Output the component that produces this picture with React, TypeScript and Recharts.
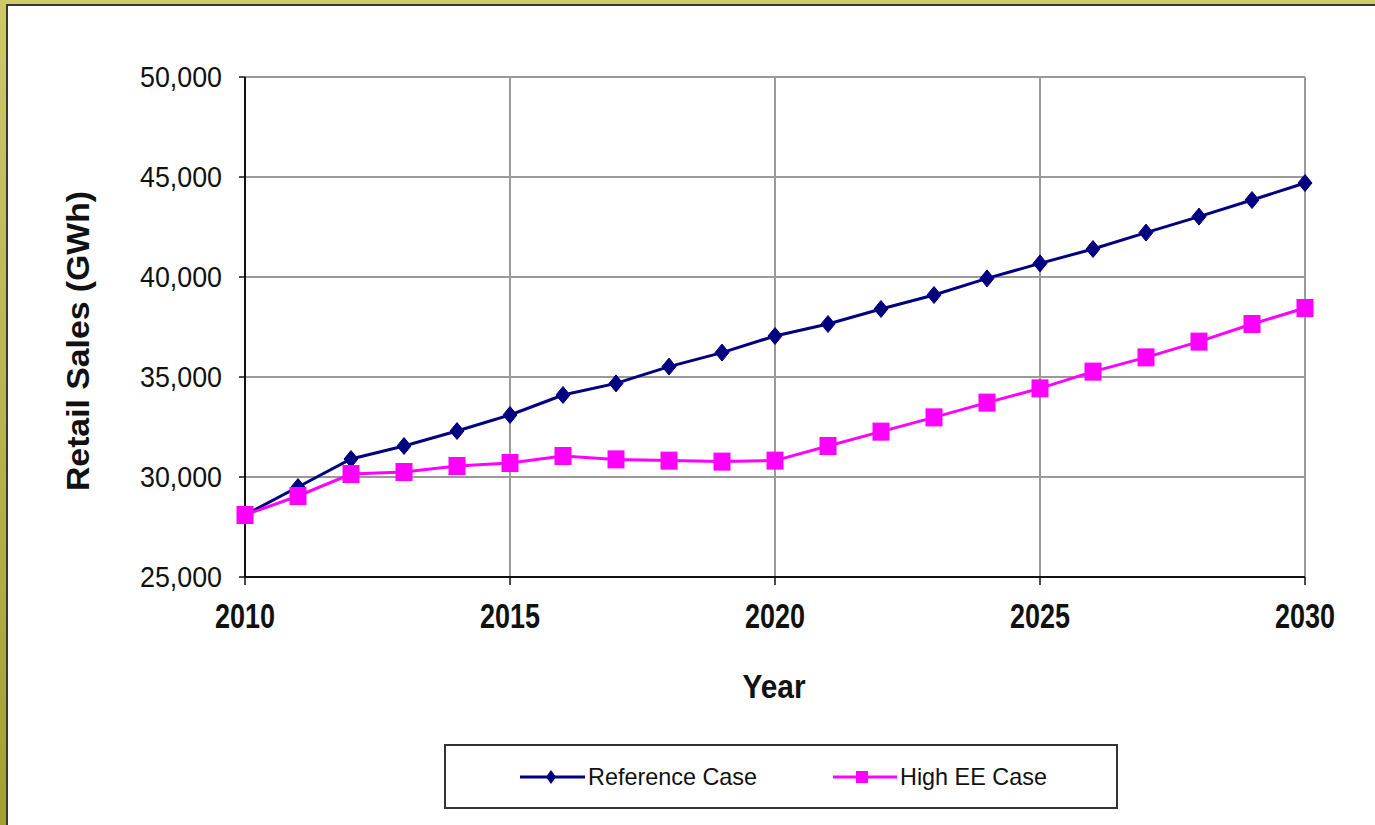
import React from 'react';
import { LineChart, Line, XAxis, YAxis, CartesianGrid } from 'recharts';

const years = [2010, 2011, 2012, 2013, 2014, 2015, 2016, 2017, 2018, 2019, 2020, 2021, 2022, 2023, 2024, 2025, 2026, 2027, 2028, 2029, 2030];
const referenceCase = [28100, 29500, 30900, 31550, 32300, 33100, 34100, 34680, 35520, 36220, 37050, 37650, 38400, 39100, 39930, 40680, 41400, 42220, 43020, 43850, 44700];
const highEECase = [28100, 29050, 30150, 30250, 30550, 30700, 31050, 30880, 30820, 30770, 30820, 31550, 32270, 32980, 33720, 34430, 35270, 35980, 36770, 37650, 38450];
const xTicks = [2010, 2015, 2020, 2025, 2030];
const yTicks = [25000, 30000, 35000, 40000, 45000, 50000];
const seriesNames = ['Reference Case', 'High EE Case'];
const seriesColors = ['#000080', '#FF00FF'];

const data = years.map((y, i) => ({ year: y, ref: referenceCase[i], high: highEECase[i] }));

const FONT = '"Liberation Sans", Arial, sans-serif';

const Diamond = (props: any) => {
  const { cx, cy } = props;
  if (cx == null || cy == null) return null;
  return <path d={`M${cx},${cy - 8.5} L${cx + 7},${cy} L${cx},${cy + 8.5} L${cx - 7},${cy} Z`} fill={seriesColors[0]} stroke={seriesColors[0]} strokeWidth={1} />;
};

const Square = (props: any) => {
  const { cx, cy } = props;
  if (cx == null || cy == null) return null;
  return <rect x={cx - 8} y={cy - 8.5} width={16} height={17} fill={seriesColors[1]} stroke={seriesColors[1]} strokeWidth={1} />;
};

const YTick = (props: any) => {
  const { x, y, payload } = props;
  const label = payload.value.toLocaleString('en-US');
  return (
    <text x={x - 17} y={y + 10} textAnchor="end" fontFamily={FONT} fontSize={29} fill="#111" textLength={82} lengthAdjust="spacingAndGlyphs">
      {label}
    </text>
  );
};

const XTick = (props: any) => {
  const { x, y, payload } = props;
  return (
    <text x={x} y={y + 43} textAnchor="middle" fontFamily={FONT} fontSize={35} fontWeight="bold" fill="#111" textLength={60} lengthAdjust="spacingAndGlyphs">
      {String(payload.value)}
    </text>
  );
};

const YLabel = (props: any) => {
  const x = 89;
  const y = 341;
  return (
    <text x={x} y={y} transform={`rotate(-90 ${x} ${y})`} textAnchor="middle" fontFamily={FONT} fontSize={31} fontWeight="bold" fill="#111" textLength={300} lengthAdjust="spacingAndGlyphs">
      Retail Sales (GWh)
    </text>
  );
};

const XLabel = (props: any) => {
  return (
    <text x={774} y={698} textAnchor="middle" fontFamily={FONT} fontSize={33} fontWeight="bold" fill="#111" textLength={63} lengthAdjust="spacingAndGlyphs">
      Year
    </text>
  );
};

export default function App() {
  return (
    <div style={{ position: 'absolute', left: 0, top: 0, width: 1375, height: 825, background: '#fff', overflow: 'hidden' }}>
      {/* frame */}
      <div style={{ position: 'absolute', left: 0, top: 0, width: 1375, height: 4, background: '#cfca6c' }} />
      <div style={{ position: 'absolute', left: 6, top: 4, width: 1369, height: 2, background: '#3a3a2a' }} />
      <div style={{ position: 'absolute', left: 0, top: 0, width: 6, height: 825, background: 'linear-gradient(#cdc86a, #a2a22c)' }} />
      <div style={{ position: 'absolute', left: 6, top: 4, width: 2, height: 821, background: '#3a3a2a' }} />

      <div style={{ position: 'absolute', left: 0, top: 0 }}>
        <LineChart width={1375} height={825} data={data} margin={{ top: 77, right: 70, bottom: 188, left: 105 }}>
          <CartesianGrid stroke="#9a9a9a" strokeWidth={2} horizontalValues={yTicks} verticalValues={xTicks} />
          <XAxis
            dataKey="year"
            type="number"
            domain={[2010, 2030]}
            ticks={xTicks}
            height={60}
            tickSize={8}
            tickMargin={0}
            axisLine={{ stroke: '#111', strokeWidth: 2 }}
            tickLine={{ stroke: '#111', strokeWidth: 1.5 }}
            tick={<XTick />}
            interval={0}
            label={<XLabel />}
          />
          <YAxis
            type="number"
            domain={[25000, 50000]}
            ticks={yTicks}
            width={140}
            tickSize={6}
            tickMargin={0}
            axisLine={{ stroke: '#111', strokeWidth: 2 }}
            tickLine={{ stroke: '#111', strokeWidth: 1.5 }}
            tick={<YTick />}
            interval={0}
            label={<YLabel />}
          />
          <Line type="linear" dataKey="ref" name={seriesNames[0]} stroke={seriesColors[0]} strokeWidth={3} dot={<Diamond />} activeDot={false} isAnimationActive={false} />
          <Line type="linear" dataKey="high" name={seriesNames[1]} stroke={seriesColors[1]} strokeWidth={3} dot={<Square />} activeDot={false} isAnimationActive={false} />
        </LineChart>
      </div>

      {/* legend */}
      <svg style={{ position: 'absolute', left: 0, top: 0 }} width={1375} height={825} pointerEvents="none">
        <rect x={445} y={745} width={672} height={63} fill="#fff" stroke="#333" strokeWidth={2} />
        <line x1={520} y1={777} x2={585} y2={777} stroke={seriesColors[0]} strokeWidth={3} />
        <path d="M551,770 L556,777 L551,784 L546,777 Z" fill={seriesColors[0]} />
        <text x={588} y={785} fontFamily={FONT} fontSize={23.4} fill="#111">{seriesNames[0]}</text>
        <line x1={833} y1={777} x2={897} y2={777} stroke={seriesColors[1]} strokeWidth={3} />
        <rect x={856} y={771} width={12} height={12} fill={seriesColors[1]} />
        <text x={900} y={785} fontFamily={FONT} fontSize={23.4} fill="#111">{seriesNames[1]}</text>
      </svg>
    </div>
  );
}
